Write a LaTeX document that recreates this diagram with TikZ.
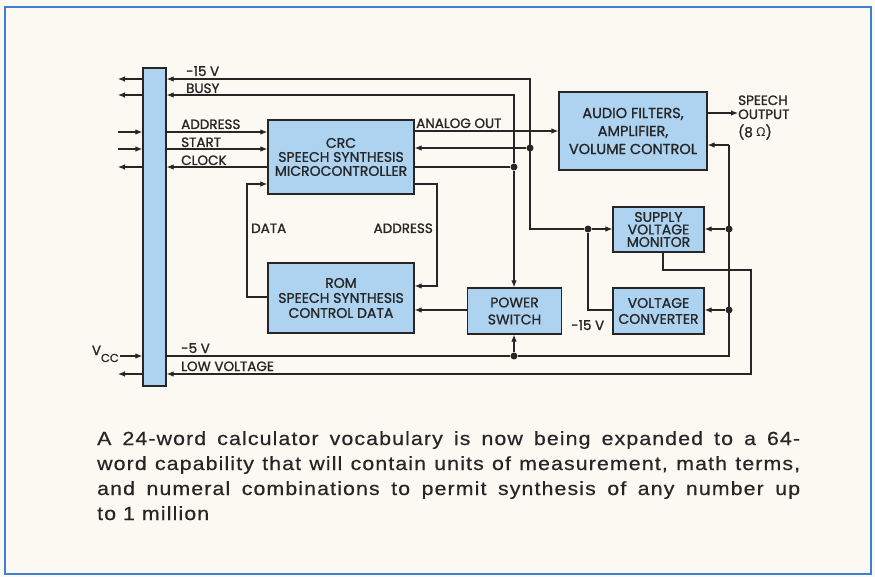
\documentclass[tikz,border=0pt]{standalone}
\usepackage{fontspec}
\usetikzlibrary{arrows.meta}
\newfontfamily\dfont[FakeBold=1.2]{Poppins}
\newfontfamily\gfont{DejaVu Sans}
\newfontfamily\capfont[LetterSpace=6,FakeStretch=1.12,FakeBold=0.5]{Liberation Sans}
\definecolor{bg}{HTML}{FBF9F1}
\definecolor{boxblue}{HTML}{AED3F0}
\definecolor{frameblue}{HTML}{3E80D8}
\definecolor{ink}{HTML}{262626}
\begin{document}
\begin{tikzpicture}[x=1pt,y=-1pt,
  blk/.style={draw=ink, line width=1.2pt, fill=boxblue, inner sep=0pt, align=center, text=ink},
  bf/.style={font=\dfont\fontsize{14}{#1}\selectfont},
  wire/.style={draw=ink, line width=1.1pt},
  arr/.style={wire, -{Latex[length=7pt,width=5.5pt]}},
  lbl/.style={inner sep=0pt, text=ink, font=\dfont\fontsize{13.5}{14}\selectfont},
  dot/.style={circle, fill=ink, inner sep=0pt, minimum size=7pt},
  captxt/.style={inner sep=0pt, anchor=base west, text=ink, font=\capfont\fontsize{19}{25}\selectfont}
]
\fill[bg] (0,0) rectangle (875,577);
\draw[frameblue, line width=2.5pt] (5,7) rectangle (871,574);

% blocks
\node[draw=ink, fill=boxblue, line width=1.2pt, minimum width=23pt, minimum height=318pt, inner sep=0pt] (bus) at (154.5,227) {};
\node[blk, bf=14, minimum width=146pt, minimum height=74pt] (crc) at (341,157) {CRC\\SPEECH SYNTHESIS\\MICROCONTROLLER};
\node[blk, bf=15, minimum width=146pt, minimum height=70pt] (rom) at (341,298) {ROM\\SPEECH SYNTHESIS\\CONTROL DATA};
\node[blk, font=\dfont\fontsize{14.5}{18}\selectfont, minimum width=148pt, minimum height=78pt] (audio) at (633,131) {AUDIO FILTERS,\\AMPLIFIER,\\VOLUME CONTROL};
\node[blk, bf=12.5, minimum width=91pt, minimum height=45pt] (svm) at (658.5,229.5) {SUPPLY\\VOLTAGE\\MONITOR};
\node[blk, bf=16, minimum width=91pt, minimum height=46pt] (vc) at (658.5,311) {VOLTAGE\\CONVERTER};
\node[blk, bf=17, minimum width=94pt, minimum height=46pt] (ps) at (514.5,311) {POWER\\SWITCH};

% junctions and turn points
\node[dot] (dA) at (588,229) {};
\node[dot] (dB) at (530,148) {};
\node[dot] (dC) at (514,167) {};
\node[dot] (dD) at (514,356) {};
\node[dot] (dE) at (729,229) {};
\node[dot] (dF) at (729,310) {};
\coordinate (j15t) at (530,79);
\coordinate (j15b) at (530,229);
\coordinate (bsyT) at (514,95);
\coordinate (vcT) at (588,310);
\coordinate (datL1) at (247,297);
\coordinate (datL2) at (247,184);
\coordinate (adrR1) at (437,184);
\coordinate (adrR2) at (437,286);
\coordinate (m5R) at (729,356);
\coordinate (m5T) at (729,145);
\coordinate (lvA) at (663,270);
\coordinate (lvB) at (751,270);
\coordinate (lvC) at (751,374);
\coordinate (spk) at (738,113);
\coordinate (o79) at (118,79);
\coordinate (o95) at (118,95);
\coordinate (o132) at (118,132);
\coordinate (o149) at (118,149);
\coordinate (o167) at (118,167);
\coordinate (o356) at (120,356);
\coordinate (o374) at (118,374);

% wires
\draw[arr] (dA) -- (svm.west |- dA);
\draw[arr] (dA) -- (j15b) -- (j15t) -- (bus.east |- j15t);
\draw[arr] (dB) -- (crc.east |- dB);
\draw[wire] (vc.west |- vcT) -- (vcT) -- (dA);
\draw[wire] (crc.east |- dC) -- (dC);
\draw[arr] (dC) -- (bsyT) -- (bus.east |- bsyT);
\draw[arr] (dC) -- (dC |- ps.north);
\draw[arr] (crc.east |- 0,131) -- (audio.west |- 0,131);
\draw[arr] (bus.east |- o132) -- (crc.west |- o132);
\draw[arr] (bus.east |- o149) -- (crc.west |- o149);
\draw[arr] (crc.west |- o167) -- (bus.east |- o167);
\draw[arr] (rom.west |- datL1) -- (datL1) -- (datL2) -- (crc.west |- datL2);
\draw[arr] (crc.east |- adrR1) -- (adrR1) -- (adrR2) -- (rom.east |- adrR2);
\draw[arr] (ps.west |- 0,310) -- (rom.east |- 0,310);
\draw[wire] (bus.east |- m5R) -- (dD) -- (m5R) -- (m5T);
\draw[arr] (m5T) -- (audio.east |- m5T);
\draw[arr] (dD) -- (dD |- ps.south);
\draw[arr] (dE) -- (svm.east |- dE);
\draw[arr] (dF) -- (vc.east |- dF);
\draw[arr] (svm.south -| lvA) -- (lvA) -- (lvB) -- (lvC) -- (bus.east |- lvC);
\draw[arr] (audio.east |- spk) -- (spk);
% outer bus arrows
\draw[arr] (bus.west |- o79) -- (o79);
\draw[arr] (bus.west |- o95) -- (o95);
\draw[arr] (o132) -- (bus.west |- o132);
\draw[arr] (o149) -- (bus.west |- o149);
\draw[arr] (bus.west |- o167) -- (o167);
\draw[arr] (o356) -- (bus.west |- o356);
\draw[arr] (bus.west |- o374) -- (o374);

% labels
\node[lbl, anchor=base west] (t15) at (186,76) {-15 V};
\node[lbl, anchor=base west] (tbusy) at (186,93) {BUSY};
\node[lbl, anchor=base west] (taddr) at (181,129) {ADDRESS};
\node[lbl, anchor=base west] (tstart) at (181,147) {START};
\node[lbl, anchor=base west] (tclock) at (181,165) {CLOCK};
\node[lbl, anchor=base west] (t5) at (181,353) {-5 V};
\node[lbl, anchor=base west] (tlow) at (181,371) {LOW VOLTAGE};
\node[lbl, anchor=base west] (tanalog) at (416,128) {ANALOG OUT};
\node[lbl, anchor=base west] (tdata) at (251,233) {DATA};
\node[lbl, anchor=base east] (taddr2) at (433,233) {ADDRESS};
\node[lbl, anchor=base west] (tm15) at (571,330) {-15 V};
\node[lbl, anchor=base west] (tsp1) at (738,105) {SPEECH};
\node[lbl, anchor=base west] (tsp2) at (738,119) {OUTPUT};
\node[lbl, anchor=base west] (tsp3) at (738,137) {(8 {\gfont\fontsize{12}{14}\selectfont Ω})};
\node[lbl, anchor=base east] (tvcc) at (119,355) {V\raisebox{-7pt}{\fontsize{11.5}{11}\selectfont CC}};

% caption
\node[captxt] (c1) at (97,445) {\makebox[703pt][s]{A 24-word calculator vocabulary is now being expanded to a 64-}};
\node[captxt] (c2) at (97,470) {\makebox[703pt][s]{word capability that will contain units of measurement, math terms,}};
\node[captxt] (c3) at (97,495) {\makebox[703pt][s]{and numeral combinations to permit synthesis of any number up}};
\node[captxt] (c4) at (97,520) {to 1 million};
\end{tikzpicture}
\end{document}
